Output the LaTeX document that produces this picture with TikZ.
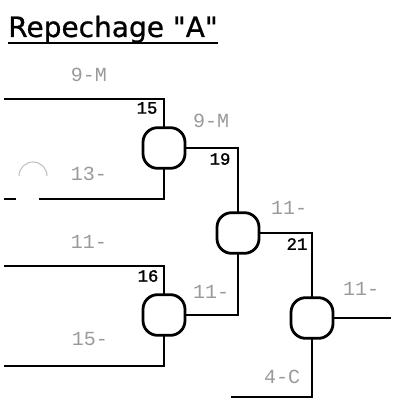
\documentclass[tikz,border=0pt]{standalone}
\usepackage{fontspec}
\usepackage{xcolor}
\usepackage{tikz}
\usetikzlibrary{positioning}
\newfontfamily\titlefont[FakeBold=0.8]{DejaVu Sans}
\newfontfamily\bracketfont{Liberation Mono}
\newfontfamily\numberfont[FakeBold=1.2]{Liberation Mono}
\definecolor{faded}{HTML}{9A9A9A}
\tikzset{
  wire/.style={line width=1.5pt, line cap=rect, line join=miter},
  bout/.style={
    draw, rounded corners=11pt,
    line width=2.1pt,
    minimum width=31.5pt, minimum height=30.5pt,
    inner sep=0pt
  },
  matchno/.style={font=\numberfont\fontsize{13}{13}\selectfont, inner sep=0pt},
  entrant/.style={font=\bracketfont\fontsize{15}{15}\selectfont, text=faded, inner sep=0pt},
  heading/.style={font=\titlefont\fontsize{21}{24}\selectfont, inner sep=0pt}
}

\begin{document}
\begin{tikzpicture}[x=0.75pt,y=-0.75pt]
\path[use as bounding box] (0,0) rectangle (393,402);
\fill[white] (0,0) rectangle (393,402);

% title
\node[heading, anchor=base west] (title) at (8,37) {Repechage "A"};
\draw[line width=1.7pt] ([yshift=-4.5pt]title.base west) -- ([yshift=-4.5pt]title.base east);

% bouts
\node[bout] (m15) at (164,148) {};
\node[bout] (m16) at (164,315) {};
\node[bout] (m19) at (238,233) {};
\node[bout] (m21) at (312,318) {};

% free ends
\coordinate (in15a) at (5,99);
\coordinate (in15b) at (40,199);
\coordinate (in16a) at (5,266);
\coordinate (in16b) at (5,366);
\coordinate (in21b) at (232,397);
\coordinate (out21) at (390,318);

\draw[wire] (in15a) -| (m15);
\draw[wire] (in15b) -| (m15);
\draw[wire] (in16a) -| (m16);
\draw[wire] (in16b) -| (m16);
\draw[wire] (m15) -| (m19);
\draw[wire] (m16) -| (m19);
\draw[wire] (m19) -| (m21);
\draw[wire] (in21b) -| (m21);
\draw[wire] (m21) -- (out21);

% scan marks
\coordinate (nick) at (5,199);
\draw[wire] (nick) -- ++(10,0);
\draw[faded!60, line width=0.8pt] (19,176) arc[start angle=180, end angle=360, radius=14];

% match numbers
\node[matchno] (n15) at (147,108) {15};
\node[matchno] (n19) at (220,159) {19};
\node[matchno] (n16) at (148,276) {16};
\node[matchno] (n21) at (297,244) {21};

% wrestlers
\node[entrant] (w1) at (89,75) {9-M};
\node[entrant] (w2) at (89,174) {13-};
\node[entrant] (w3) at (211,121) {9-M};
\node[entrant] (w4) at (89,242) {11-};
\node[entrant] (w5) at (90,339) {15-};
\node[entrant] (w6) at (211,292) {11-};
\node[entrant] (w7) at (289,208) {11-};
\node[entrant] (w8) at (361,289) {11-};
\node[entrant] (w9) at (282,377) {4-C};
\end{tikzpicture}
\end{document}
